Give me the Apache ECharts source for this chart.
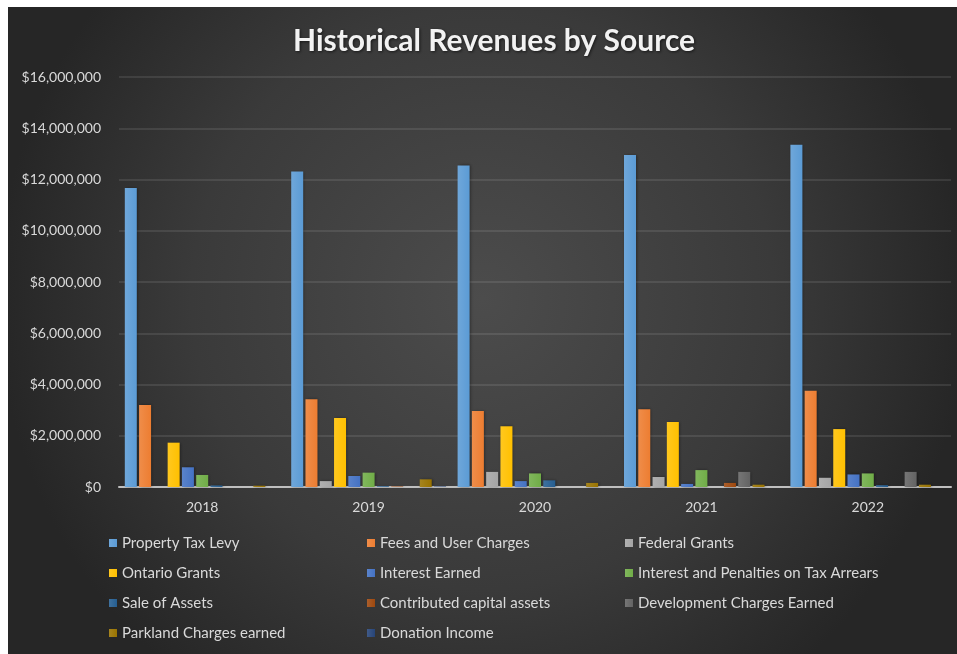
<!DOCTYPE html>
<html>
<head>
<meta charset="utf-8">
<script src="https://cdn.jsdelivr.net/npm/echarts@6/dist/echarts.min.js"></script>
<style>
  html, body { margin: 0; padding: 0; background: #ffffff; }
  #chart { width: 957px; height: 654px; }
</style>
</head>
<body>
<div id="chart"></div>
<script>
// Fiscal years on the category axis
const years = ['2018', '2019', '2020', '2021', '2022'];

// Revenue by source, dollars per year
const propertyTaxLevy      = [11670000, 12310000, 12550000, 12960000, 13360000];
const feesAndUserCharges   = [3200000, 3420000, 2970000, 3030000, 3760000];
const federalGrants        = [0, 230000, 590000, 390000, 360000];
const ontarioGrants        = [1730000, 2690000, 2370000, 2540000, 2260000];
const interestEarned       = [770000, 430000, 230000, 120000, 490000];
const interestPenalties    = [470000, 560000, 530000, 660000, 530000];
const saleOfAssets         = [60000, 30000, 260000, 0, 70000];
const contributedCapital   = [0, 20000, 0, 160000, 0];
const developmentCharges   = [0, 0, 0, 590000, 590000];
const parklandCharges      = [50000, 300000, 160000, 90000, 90000];
const donationIncome       = [0, 20000, 0, 0, 0];

// Value axis ticks
const yMin = 0;
const yMax = 16000000;
const yStep = 2000000;

const seriesDefs = [
  { name: 'Property Tax Levy', data: propertyTaxLevy, color: '#5B9BD5' },
  { name: 'Fees and User Charges', data: feesAndUserCharges, color: '#ED7D31' },
  { name: 'Federal Grants', data: federalGrants, color: '#A5A5A5' },
  { name: 'Ontario Grants', data: ontarioGrants, color: '#FFC000' },
  { name: 'Interest Earned', data: interestEarned, color: '#4472C4' },
  { name: 'Interest and Penalties on Tax Arrears', data: interestPenalties, color: '#70AD47' },
  { name: 'Sale of Assets', data: saleOfAssets, color: '#255E91' },
  { name: 'Contributed capital assets', data: contributedCapital, color: '#9E480E' },
  { name: 'Development Charges Earned', data: developmentCharges, color: '#636363' },
  { name: 'Parkland Charges earned', data: parklandCharges, color: '#997300' },
  { name: 'Donation Income', data: donationIncome, color: '#264478' }
];

const chart = echarts.init(document.getElementById('chart'), null, { renderer: 'canvas' });

const legendText = { color: '#d9d9d9', fontSize: 15, fontFamily: 'Lato', lineHeight: 16 };
function legendColumn(names, left) {
  return {
    data: names,
    orient: 'vertical',
    left: left,
    top: 530,
    itemWidth: 8,
    itemHeight: 8,
    itemGap: 14,
    icon: 'rect',
    textStyle: legendText,
    selectedMode: false
  };
}

function shade(hex, amt) {
  const n = parseInt(hex.slice(1), 16);
  let r = (n >> 16) & 255, g = (n >> 8) & 255, b = n & 255;
  r = Math.min(255, Math.round(r + (255 - r) * amt));
  g = Math.min(255, Math.round(g + (255 - g) * amt));
  b = Math.min(255, Math.round(b + (255 - b) * amt));
  return 'rgb(' + r + ',' + g + ',' + b + ')';
}

const option = {
  backgroundColor: '#ffffff',
  animation: false,
  graphic: [{
    type: 'rect',
    z: -10,
    silent: true,
    shape: { x: 8, y: 7, width: 949, height: 647 },
    style: {
      fill: new echarts.graphic.RadialGradient(0.5, 0.45, 0.75, [
        { offset: 0, color: '#4c4c4c' },
        { offset: 0.6, color: '#3a3a3a' },
        { offset: 1, color: '#262626' }
      ])
    }
  }],
  title: {
    text: 'Historical Revenues by Source',
    left: 288,
    top: 21,
    textStyle: {
      color: '#f2f2f2',
      fontSize: 30,
      fontWeight: 'bold',
      fontFamily: 'Lato',
      textShadowColor: 'rgba(0,0,0,0.6)',
      textShadowBlur: 3,
      textShadowOffsetX: 1,
      textShadowOffsetY: 1
    }
  },
  legend: [
    legendColumn(['Property Tax Levy', 'Ontario Grants', 'Sale of Assets', 'Parkland Charges earned'], 104),
    legendColumn(['Fees and User Charges', 'Interest Earned', 'Contributed capital assets', 'Donation Income'], 362),
    legendColumn(['Federal Grants', 'Interest and Penalties on Tax Arrears', 'Development Charges Earned'], 620)
  ],
  grid: { left: 119, right: 6, top: 77, bottom: 167 },
  xAxis: {
    type: 'category',
    data: years,
    axisLine: { lineStyle: { color: '#bfbfbf', width: 2 } },
    axisTick: { show: false },
    axisLabel: { color: '#d9d9d9', fontSize: 14, fontFamily: 'Lato', margin: 13 }
  },
  yAxis: {
    type: 'value',
    min: yMin,
    max: yMax,
    interval: yStep,
    axisLine: { show: false },
    axisTick: { show: false },
    splitLine: { lineStyle: { color: 'rgba(255,255,255,0.13)', width: 1.5 } },
    axisLabel: {
      color: '#d9d9d9',
      fontSize: 14,
      fontFamily: 'Lato',
      margin: 18,
      formatter: v => '$' + v.toLocaleString('en-US')
    }
  },
  series: seriesDefs.map(s => ({
    name: s.name,
    type: 'bar',
    data: s.data,
    barWidth: 12,
    barGap: '19%',
    color: s.color,
    itemStyle: {
      color: new echarts.graphic.LinearGradient(0, 0, 1, 0, [
        { offset: 0, color: shade(s.color, 0.12) },
        { offset: 1, color: s.color }
      ]),
      shadowColor: 'rgba(0,0,0,0.4)',
      shadowBlur: 3,
      shadowOffsetX: 1
    }
  }))
};

chart.setOption(option);
</script>
</body>
</html>
